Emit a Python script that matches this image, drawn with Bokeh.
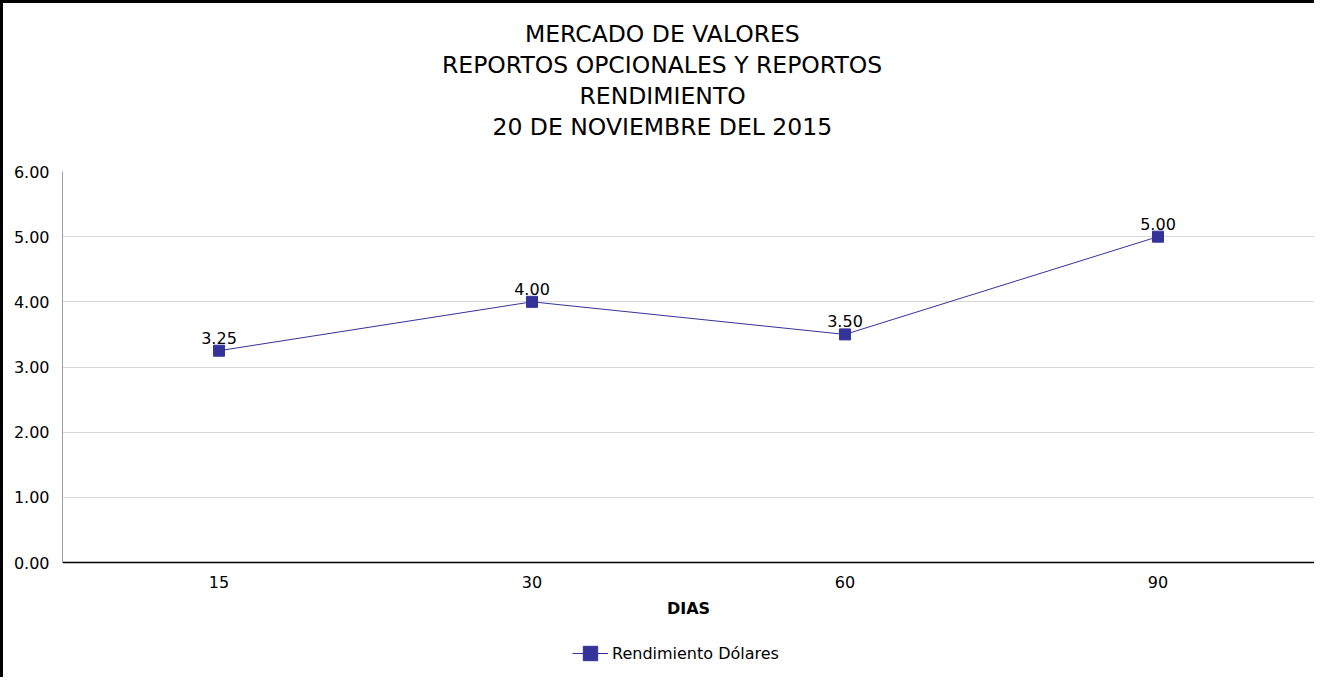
from bokeh.plotting import figure
from bokeh.models import (ColumnDataSource, FactorRange, Range1d, FixedTicker,
                          NumeralTickFormatter, Title, Legend, LegendItem)
from bokeh.core.properties import value
from bokeh.embed import file_html
from bokeh.resources import INLINE

# ---- data ----
dias = ["15", "30", "60", "90"]
rendimiento = [3.25, 4.00, 3.50, 5.00]
etiquetas = ["3.25", "4.00", "3.50", "5.00"]
y_ticks = [0, 1, 2, 3, 4, 5, 6]
titulos = ["MERCADO DE VALORES", "REPORTOS OPCIONALES Y REPORTOS",
           "RENDIMIENTO", "20 DE NOVIEMBRE DEL 2015"]
serie = "Rendimiento Dólares"
eje_x = "DIAS"

FONT = "DejaVu Sans"
COLOR = "#333399"
TITLE_PX = 23.5
# approximate rendered widths of each title line (px) used to centre them on the canvas
title_w = [273, 439, 164, 338]

# layout (pixels)
W, H = 1314, 677
TOP, BOTTOM = 168, 3
PLOT_PX = 391            # pixel height of the 0..6 value band
BELOW_PX = H - TOP - BOTTOM - PLOT_PX   # room under the zero line for labels & legend
Y_MAX = 6
Y_MIN = -Y_MAX * BELOW_PX / PLOT_PX

src = ColumnDataSource(dict(x=dias, y=rendimiento, lab=etiquetas))

p = figure(x_range=FactorRange(*dias, range_padding=0),
           y_range=Range1d(Y_MIN, Y_MAX),
           width=W, height=H, output_backend="svg", toolbar_location=None,
           title=None, min_border_left=59, min_border_right=3,
           min_border_top=TOP, min_border_bottom=BOTTOM)
p.styles = {"border-left": "3px solid black", "border-top": "3px solid black"}
p.outline_line_color = None
p.background_fill_color = "white"
p.border_fill_color = "white"

# spacer between title block and plot
p.add_layout(Title(text=" ", text_font_size="1px", standoff=27), "above")
# titles (nearest to plot first)
for t, w in reversed(list(zip(titulos, title_w))):
    p.add_layout(Title(text=t, align="left", offset=599 - w / 2,
                       text_font=FONT, text_font_size=f"{TITLE_PX}px",
                       text_font_style="normal", text_color="black",
                       standoff=1), "above")

# axes
p.xaxis.fixed_location = 0
p.xaxis.axis_label = eje_x
p.xaxis.axis_label_text_font = FONT
p.xaxis.axis_label_text_font_style = "bold"
p.xaxis.axis_label_text_font_size = "16px"
p.xaxis.axis_label_text_color = "black"
p.xaxis.axis_label_standoff = 8
p.xaxis.major_label_text_font = FONT
p.xaxis.major_label_text_font_size = "16px"
p.xaxis.major_label_text_color = "black"
p.xaxis.major_label_standoff = 7
p.xaxis.major_tick_line_color = None
p.xaxis.minor_tick_line_color = None
p.xaxis.axis_line_color = "black"
p.xaxis.axis_line_width = 1.5

p.yaxis.bounds = (0, Y_MAX)
p.yaxis.ticker = FixedTicker(ticks=y_ticks)
p.yaxis.formatter = NumeralTickFormatter(format="0.00")
p.yaxis.major_label_text_font = FONT
p.yaxis.major_label_text_font_size = "16px"
p.yaxis.major_label_text_color = "black"
p.yaxis.major_label_standoff = 7
p.yaxis.major_tick_line_color = None
p.yaxis.minor_tick_line_color = None
p.yaxis.axis_line_color = "#a0a0a0"

p.xgrid.grid_line_color = None
p.ygrid.grid_line_color = "#d9d9d9"
p.ygrid.ticker = FixedTicker(ticks=y_ticks[1:])

# series
lr = p.line("x", "y", source=src, line_color=COLOR, line_width=1)
sr = p.scatter("x", "y", source=src, marker="square", size=11,
               fill_color=COLOR, line_color=COLOR)
p.text("x", "y", text="lab", source=src, text_align="center",
       text_baseline="alphabetic", y_offset=-13, text_font_size="16px",
       text_font=value(FONT), text_color="black")

GW, GH = 36, 36
legend = Legend(items=[LegendItem(label=serie, renderers=[lr, sr])],
                location=(590 - GW // 2 - 62, (H + 3 - BOTTOM) - (653 + GH // 2)),
                orientation="horizontal",
                label_text_font=FONT, label_text_font_size="16px",
                label_text_color="black", glyph_width=GW, glyph_height=GH,
                label_standoff=4, margin=0, padding=0,
                border_line_color=None, background_fill_alpha=0)
p.add_layout(legend, "center")

open("out.html", "w").write(file_html(p, INLINE))
